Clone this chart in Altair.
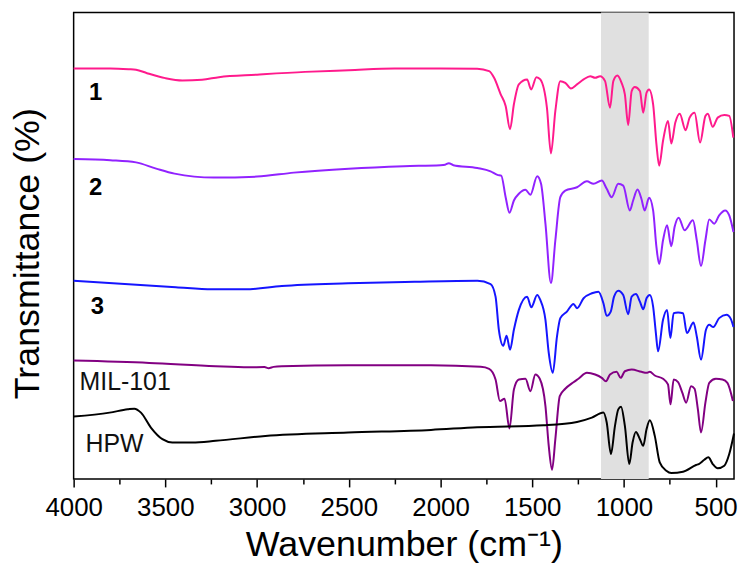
import altair as alt
import pandas as pd

# ---- FTIR spectra (wavenumber in cm-1, transmittance in arbitrary offset units) ----
wn_1 = [4000, 3800, 3700, 3660, 3600, 3500, 3407, 3300, 3208, 3000, 2739, 2500, 2251, 2000, 1800,
        1735, 1708, 1672, 1645, 1621, 1600, 1573,
        1528, 1506, 1477, 1456, 1420, 1398, 1374, 1347, 1320, 1289, 1256, 1220, 1184, 1157, 1130,
        1103, 1076, 1058, 1036, 1013, 995, 977, 958, 941, 913, 895, 877, 863, 841, 823, 808, 787,
        760, 742, 720, 696, 664, 642, 615, 585, 556, 543, 516, 489, 453, 426, 404]
t_1 = [412.7, 412.7, 412, 411.5, 408, 403, 400.7, 401.5, 404, 406.5, 409.3, 411, 412.7, 412.7, 412.5,
       410, 403.3, 386.7, 375, 351.7, 376.7, 396.7,
       401.7, 391.7, 404, 401.7, 373.3, 327.3, 370, 400, 398.3, 392.7, 396.7, 401.7, 405, 403.3, 405,
       400, 373.3, 400, 405.7, 398.3, 386.7, 356, 390, 394, 390, 368.3, 388.3, 391.7, 376.7, 336.7, 315, 340,
       360, 337.3, 358.3, 367.3, 350.7, 363.3, 368.3, 338.3, 365, 367.3, 354, 363.3, 366, 365, 343.3]

wn_2 = [4000, 3800, 3660, 3550, 3450, 3235, 3000, 2800, 2500, 2200, 2000, 1975, 1955, 1930, 1800,
        1727, 1690, 1669,
        1645, 1624, 1600, 1573, 1537, 1510, 1473, 1452, 1428, 1398, 1374, 1347, 1320, 1256, 1202,
        1166, 1121, 1094, 1067, 1031, 1004, 968, 950, 926, 905, 887, 863, 841, 823, 808, 787, 765,
        742, 724, 702, 669, 624, 603, 580, 556, 535, 508, 481, 448, 426, 403]
t_2 = [321.7, 320.5, 318.3, 312, 307, 303, 304, 308, 312, 314.5, 315.5, 316, 317.5, 315.5, 312.7,
       309.3, 305.7, 305,
       283.3, 267.7, 280, 286.7, 290.7, 285.7, 304.3, 296.7, 256.7, 197, 240, 283.3, 290, 293.3, 299.3,
       296.7, 300, 291.7, 283.3, 296.7, 295, 270, 280, 291, 281.7, 270, 282.7, 270, 233.3, 216, 240, 255,
       234, 253.3, 262.7, 250, 260, 240, 214, 240, 261, 256.7, 265, 270, 265, 248.3]

wn_3 = [4000, 3443, 3245, 3064, 2865, 2504, 2142, 1799, 1727, 1700, 1682, 1658, 1640, 1621, 1600,
        1573, 1528, 1505, 1473, 1456, 1428, 1410, 1388, 1365, 1347, 1311, 1275, 1256, 1220, 1175,
        1139, 1112, 1094, 1072, 1054, 1031, 1004, 977, 958, 935, 913, 895, 877, 859, 841, 826, 814,
        787, 765, 747, 729, 705, 678, 657, 621, 603, 580, 553, 535, 513, 481, 441, 417, 403]
t_3 = [199.3, 192.7, 190.7, 190.7, 194, 196.7, 198.3, 199.3, 196, 183.3, 150, 134, 144, 130, 150,
       170, 183.3, 172.7, 185, 180, 160, 126.7, 106.7, 143.3, 161.7, 168.3, 176, 171.7, 181.7, 186.7,
       188.3, 176.7, 164, 168.3, 183.3, 189.3, 185, 165.7, 183.3, 186, 178.3, 170.7, 181.7, 185, 173.3, 146.7, 128.3,
       160, 170, 141.7, 166.7, 167.3, 166.7, 146.7, 157.3, 143.3, 120, 150, 155, 152.7, 161.7, 165, 160.7, 152.7]

wn_mil = [4000, 3588, 3226, 3046, 2960, 2937, 2910, 2865, 2504, 2052, 1781, 1735, 1700, 1676, 1651,
          1624, 1600, 1573, 1537, 1510, 1483, 1459, 1428, 1410, 1392, 1374, 1350, 1320, 1275, 1248,
          1202, 1157, 1121, 1098, 1076, 1040, 1018, 995, 958, 905, 877, 859, 832, 787, 760, 746, 729,
          705, 682, 661, 634, 615, 597, 580, 556, 535, 499, 463, 436, 406]
t_mil = [119, 116.7, 113.3, 112.3, 112.5, 111.3, 112.7, 113.3, 114.3, 114.3, 112.7, 110.7, 100, 78.3, 80.7,
         50.7, 90, 100, 100.7, 88.3, 105, 100.7, 73.3, 33.3, 9.3, 40, 83.3, 90.7, 97.3, 100.7,
         106.7, 105, 101.7, 98.3, 105, 107.7, 101.7, 108.3, 110, 107.7, 106.7, 107.7, 104, 100.7, 95, 75, 100,
         97.3, 86.7, 76.7, 93.3, 90.7, 70, 46.7, 76.7, 96.7, 100.7, 100, 96.7, 78.3]

wn_hpw = [4000, 3804, 3705, 3669, 3633, 3579, 3516, 3462, 3353, 3226, 2955, 2504, 2052, 1800, 1438,
          1256, 1175, 1112, 1094, 1071, 1049, 1031, 1016, 995, 971, 953, 935, 913, 895, 877, 859,
          832, 805, 769, 742, 678, 607, 592, 562, 540, 516, 489, 453, 426, 400]
t_hpw = [62.7, 66.7, 70, 70.7, 66.7, 51.7, 40, 36.7, 36.7, 38.3, 43.3, 46.7, 49.3, 52, 54,
         57.3, 61.7, 66.7, 56.7, 25, 53.3, 70, 72.7, 53.3, 15, 36.7, 47.3, 40, 33.3, 50, 59,
         43.3, 16.7, 8.3, 6, 7.3, 14, 15, 19.3, 21.7, 15, 10.7, 13.3, 25, 45.7]

series_names = ["1", "2", "3", "MIL-101", "HPW"]
series_colors = ["#FF1A8C", "#9122FF", "#1515FF", "#820082", "#000000"]

# shaded region
band_start = [1125]
band_end = [865]

# annotation labels
bold_labels = ["1", "2", "3"]
bold_x = [3880, 3880, 3870]
bold_y = [388, 293, 173]
plain_labels = ["MIL-101", "HPW"]
plain_x = [3968, 3935]
plain_y = [97, 35]

tick_values = list(range(500, 4001, 250))

rows = []
for name, w, t in zip(series_names, [wn_1, wn_2, wn_3, wn_mil, wn_hpw], [t_1, t_2, t_3, t_mil, t_hpw]):
    for a, b in zip(w, t):
        rows.append({"series": name, "wn": a, "t": b})
df = pd.DataFrame(rows)
band_df = pd.DataFrame({"start": band_start, "end": band_end})
bold_df = pd.DataFrame({"x": bold_x, "y": bold_y, "label": bold_labels})
plain_df = pd.DataFrame({"x": plain_x, "y": plain_y, "label": plain_labels})

FONT = "Liberation Sans"

x_scale = alt.Scale(domain=[400, 4000], reverse=True, nice=False, zero=False)
y_scale = alt.Scale(domain=[0, 469], nice=False, zero=False)

x_axis = alt.Axis(
    values=tick_values,
    format="d",
    labelExpr="datum.value % 500 === 0 ? datum.label : ''",
    tickSize={"condition": {"test": "datum.value % 500 === 0", "value": 8}, "value": 5},
    tickColor="black",
    tickWidth=1.5,
    labelFont=FONT,
    labelFontSize=26,
    labelColor="black",
    labelPadding=8,
    labelFlush=False,
    labelOverlap=False,
    domain=False,
    grid=False,
    title="Wavenumber (cm⁻¹)",
    titleFont=FONT,
    titleFontSize=36,
    titleFontWeight="normal",
    titleColor="black",
    titlePadding=7,
)
y_axis = alt.Axis(
    labels=False,
    ticks=False,
    domain=False,
    grid=False,
    title="Transmittance (%)",
    titleFont=FONT,
    titleFontSize=36,
    titleFontWeight="normal",
    titleColor="black",
    titlePadding=27,
    titleY=242,
)

band = alt.Chart(band_df).mark_rect(color="#E0E0E0").encode(
    x=alt.X("start:Q", scale=x_scale, axis=x_axis),
    x2="end:Q",
)

lines = alt.Chart(df).mark_line(strokeWidth=2, interpolate="monotone").encode(
    x=alt.X("wn:Q", scale=x_scale, axis=x_axis),
    y=alt.Y("t:Q", scale=y_scale, axis=y_axis),
    color=alt.Color("series:N", scale=alt.Scale(domain=series_names, range=series_colors), legend=None),
)

bold_text = alt.Chart(bold_df).mark_text(
    font=FONT, fontSize=24, fontWeight="bold", color="black", align="center", baseline="middle"
).encode(
    x=alt.X("x:Q", scale=x_scale, axis=x_axis),
    y=alt.Y("y:Q", scale=y_scale, axis=y_axis),
    text="label:N",
)

plain_text = alt.Chart(plain_df).mark_text(
    font=FONT, fontSize=25, color="#111111", align="left", baseline="middle"
).encode(
    x=alt.X("x:Q", scale=x_scale, axis=x_axis),
    y=alt.Y("y:Q", scale=y_scale, axis=y_axis),
    text="label:N",
)

chart = alt.layer(band, lines, bold_text, plain_text).properties(
    width=664,
    height=469,
    autosize=alt.AutoSizeParams(type="none"),
    padding={"left": 66, "top": 3, "right": 4, "bottom": 87},
).configure_view(stroke="black", strokeWidth=1.5)

chart.save("out.html", embed_options={"renderer": "svg", "actions": False})
